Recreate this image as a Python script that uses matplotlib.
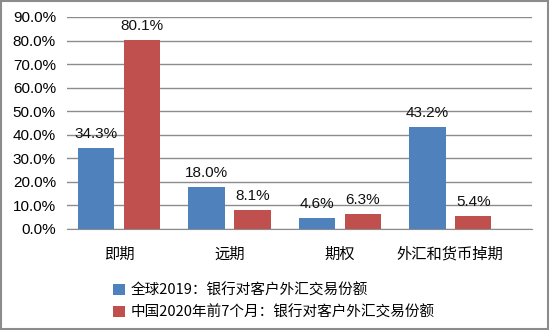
import numpy as np
import matplotlib.pyplot as plt
from matplotlib.patches import Rectangle

plt.rcParams["font.family"] = ["Liberation Sans", "Noto Sans CJK SC", "DejaVu Sans"]

categories = ["即期", "远期", "期权", "外汇和货币掉期"]
global_2019 = [0.343, 0.180, 0.046, 0.432]
china_2020 = [0.801, 0.081, 0.063, 0.054]
series_names = ["全球2019：银行对客户外汇交易份额", "中国2020年前7个月：银行对客户外汇交易份额"]
yticks = [0.0, 0.1, 0.2, 0.3, 0.4, 0.5, 0.6, 0.7, 0.8, 0.9]

BLUE = "#4F81BD"
RED = "#C0504D"
GRID = "#8c8c8c"

fig = plt.figure(figsize=(5.5, 3.3), dpi=100)
ax = fig.add_axes([67 / 550, 101 / 330, 465 / 550, 212 / 330])

x = np.arange(len(categories))
w = 0.33
off = 0.208
b1 = ax.bar(x - off, global_2019, w, color=BLUE, label=series_names[0], zorder=3)
b2 = ax.bar(x + off, china_2020, w, color=RED, label=series_names[1], zorder=3)

for bars, vals in [(b1, global_2019), (b2, china_2020)]:
    for rect, v in zip(bars, vals):
        ax.annotate(f"{v * 100:.1f}%", (rect.get_x() + rect.get_width() / 2, v),
                    xytext=(0, 5), textcoords="offset points",
                    ha="center", va="bottom", fontsize=11, color="#111111", zorder=4)

ax.set_ylim(0, 0.9)
ax.set_xlim(-0.47, 3.74)
ax.set_yticks(yticks)
ax.set_yticklabels([f"{t * 100:.1f}%" for t in yticks], fontsize=11)
ax.set_xticks(x)
ax.set_xticklabels(categories, fontsize=11, family=["Noto Sans CJK SC"])
ax.tick_params(length=0, pad=8)
ax.tick_params(axis="x", pad=12)
ax.yaxis.grid(True, color=GRID, linewidth=1, zorder=0)
for s in ["left", "right", "top"]:
    ax.spines[s].set_visible(False)
ax.spines["bottom"].set_color(GRID)

fig.legend(handles=[b1, b2], labels=series_names, loc="upper left",
           bbox_to_anchor=(100 / 550, 1 - 270 / 330), frameon=False,
           handlelength=0.8, handleheight=0.8, handletextpad=0.4,
           labelspacing=0.55, prop={"family": ["Noto Sans CJK SC"], "size": 10.5})

fig.patches.append(Rectangle((0.002, 0.003), 0.995, 0.994, transform=fig.transFigure,
                             fill=False, edgecolor="#8c8c8c", linewidth=1.5))

fig.savefig("out.png", dpi=100)
